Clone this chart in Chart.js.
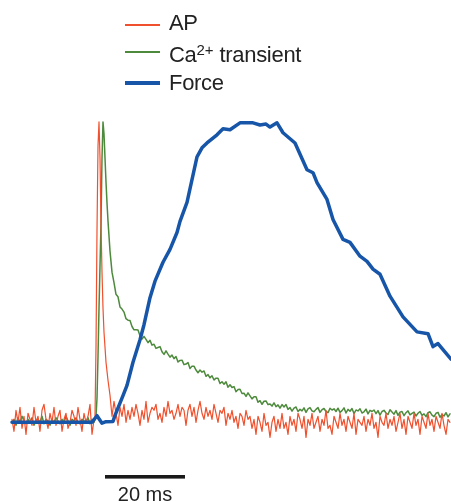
<!DOCTYPE html>
<html>
<head>
<meta charset="utf-8">
<script src="https://cdn.jsdelivr.net/npm/chart.js@4.4.0/dist/chart.umd.min.js"></script>
<style>
  body { margin: 0; background: #fff; font-family: "Liberation Sans", Arial, sans-serif; color: #222; }
  #wrap { position: relative; width: 451px; height: 501px; overflow: hidden; }
  #traces { position: absolute; left: 0; top: 0; }
  .sw { position: absolute; left: 125px; width: 35px; }
  .tx { position: absolute; left: 169px; font-size: 22px; line-height: 22px; letter-spacing: -0.3px; white-space: nowrap; }
  sup { font-size: 15px; vertical-align: 7px; line-height: 0; letter-spacing: 0; }
  #barLabel { position: absolute; top: 484px; font-size: 20px; line-height: 20px; white-space: nowrap; transform: translateX(-50%); }
</style>
</head>
<body>
<div id="wrap">
  <canvas id="traces" width="451" height="501"></canvas>
  <div class="sw" style="top:24.4px;height:1.3px;background:#f0502d"></div>
  <div class="sw" style="top:50.8px;height:2px;background:#4d8a3c"></div>
  <div class="sw" style="top:80.8px;height:3.8px;background:#1655a8"></div>
  <div class="tx" style="top:12px">AP</div>
  <div class="tx" style="top:43.5px">Ca<sup>2+</sup> transient</div>
  <div class="tx" style="top:71.5px">Force</div>
  <div id="barLabel">20 ms</div>
</div>
<script>
// time in ms, amplitude in % of peak
const step = 0.5;

// AP (red)
const apPre = [1, -3, 4, 0, 5, -2, 2, -4, 3, 1, -1, 5, 0, 2, -3, 4, 6, 1, -2, 3,
  0, 5, -1, 2, 4, -3, 1, 3, -2, 0, 4, 2, -1, 5, 1, -3, 3, 0, 2, 6, -4, 1];
const apSpikeT = [20.75, 21, 21.25, 21.5, 21.75, 22, 22.25, 22.5, 22.75, 23, 23.5, 24, 24.5];
const apSpike = [2, 25, 64, 92, 100, 88, 66, 50, 38, 30, 20, 14, 9];
const apPost = [
  2, 7, 3, -1, 5, 2, 6, 0, 4, 1,
  5, 2, 6, 3, -1, 4, 1, 7, 0, 3,
  5, 4, 6, 1, 3, 0, 5, 2, 7, 3,
  4, 1, 3, 6, 2, 5, 4, -1, 4, 6,
  2, 5, 0, 4, 7, 3, 1, 5, 2, 4,
  1, 6, 3, 0, 4, 3, 5, -1, 3, 1,
  4, 0, 2, -2, 3, 2, -1, 4, 1, 2,
  -2, 1, -4, 2, 0, -3, 3, -1, 0, -5,
  0, 2, -3, 1, -2, 3, -2, 0, -4, 2,
  -1, 1, -3, 3, 1, -2, 2, -5, 1, -1,
  3, -2, 0, 2, -3, 1, -1, 4, -2, -1,
  -4, 2, 0, -2, 3, -1, 1, -3, 2, 0,
  -2, 3, -4, 1, 0, -1, 2, -3, 1, -1,
  3, -2, 0, -5, 2, 0, -1, 3, -2, 1,
  -1, 2, -3, 0, 3, -2, 1, -4, 2, 0,
  -2, 3, -1, 1, -4, 2, 0, -2, 3, -1,
  1, -3, 2, 0, -2, 3, -1, -4, 1, 0];

// Ca2+ transient (green)
const caPre = [0, 1, -1, 1.5, 0, 2, 0.5, -0.5, 1, 0, 1.5, -1, 0.5, 1, 0, 2, -0.5, 1, 0.5, -1,
  1, 0, 1.5, 0.5, -0.5, 1, 0, 2, 0.5, -1, 1, 0.5, 1.5, 0, -0.5, 1, 0.5, 0, 1.5, -0.5, 1, 0];
const caSpikeT = [20.75, 21, 21.25, 21.5, 21.75, 22, 22.25, 22.5, 22.75, 23, 23.25, 23.5, 23.75, 24, 24.5, 25];
const caSpike = [1, 2, 8, 22, 38, 52, 66, 88, 100, 96, 88, 80, 73, 67, 57, 50];
const caPost = [
  46.5, 42.6, 41.8, 38.4, 37.7, 36.7, 34.5, 34, 33.9, 31.9,
  30.8, 30.8, 30.7, 28.8, 27.7, 28.6, 27.6, 26.5, 27.3, 25.7,
  26, 24.6, 24.9, 25.2, 23.5, 22.6, 23.8, 22.7, 21.7, 22.4,
  21.2, 21.9, 20.1, 20.6, 20.7, 19.2, 19.4, 19.9, 17.9, 18.7,
  18.7, 17.4, 16.5, 17.4, 16.7, 17.1, 15.3, 15.9, 14.8, 15.5,
  14.1, 14.7, 14.7, 12.9, 13.5, 12.7, 13.5, 11.7, 12.5, 11.6,
  11.9, 10.2, 10.9, 11, 9.6, 9.7, 8.6, 9.8, 8.8, 7.8,
  8.5, 8.5, 6.7, 7.2, 6, 7, 7.1, 5.9, 6.1, 5.4,
  6.5, 5.2, 5.8, 4.7, 5.9, 5.1, 5.9, 4.3, 4.9, 3.7,
  4.7, 5.1, 3.6, 4.3, 3.8, 4.8, 3.3, 4.5, 4.9, 3.8,
  3.5, 4.3, 4.9, 3.3, 4.2, 4.6, 3.6, 3.2, 4.7, 4.1,
  4.5, 3.6, 4.7, 3.3, 3.9, 4.8, 3.1, 4.3, 3.7, 4.6,
  2.9, 4.1, 3.8, 4.5, 3.1, 3.5, 4.4, 2.8, 4, 3.6,
  4.1, 2.9, 3.9, 2.4, 3.6, 4, 3.1, 2.6, 4.2, 3.4,
  2.7, 3.9, 2.3, 3.4, 3.6, 2.2, 3.2, 3.8, 2.5, 3,
  3.4, 2.1, 3, 3.6, 2.3, 2.8, 1.9, 3.2, 3.5, 2.4,
  1.9, 3, 3.3, 1.7, 2.6, 2.1, 3.2, 1.8, 2.8];

// Force (blue)
const forceT = [0, 20, 21.25, 22.5, 23.5, 25.25, 25.75, 27.75, 28.75, 30.25, 32, 33, 34.5, 35.75,
  37.75, 39.5, 41.25, 42, 43.75, 45, 46.25, 47.5, 48.75, 51.25, 52.75, 54.5, 57, 60.25, 62,
  63.5, 64.5, 66.25, 67.75, 70.75, 73.75, 75.25, 76.25, 78.75, 80.25, 82.75, 84.5, 87, 88.75,
  90.25, 92, 94.5, 97.75, 101.25, 104, 105.25, 106.5, 109.75];
const forceV = [0, 0, 2.2, -0.3, 0.2, 0.3, 2.3, 8.9, 12.3, 20, 27.5, 32.5, 41.5, 47,
  53.3, 57.6, 63.2, 66.9, 73.2, 80.8, 88.4, 91.4, 93, 95.7, 97.7, 97.4, 99.7, 99.7, 99,
  99.3, 98.3, 99.7, 96.4, 93, 84.1, 83.1, 79.8, 74.2, 67.5, 60.9, 59.9, 55.3, 53.6,
  51, 49.3, 42, 35.1, 30.1, 29.5, 25.2, 26.2, 21];

const scaleBarMs = 20;

function pts(times, vals) {
  return vals.map((v, i) => ({ x: times[i], y: v }));
}
function gridPts(start, vals) {
  return vals.map((v, i) => ({ x: start + i * step, y: v }));
}

const apData = gridPts(0, apPre).concat(pts(apSpikeT, apSpike), gridPts(25, apPost));
const caData = gridPts(0, caPre).concat(pts(caSpikeT, caSpike), gridPts(25.5, caPost));
const forceData = pts(forceT, forceV);

const scaleBar = {
  id: 'scaleBar',
  afterDraw(chart) {
    const x = chart.scales.x;
    const x0 = x.getPixelForValue(23.25);
    const x1 = x.getPixelForValue(23.25 + scaleBarMs);
    const ctx = chart.ctx;
    ctx.save();
    ctx.fillStyle = '#1a1a1a';
    ctx.fillRect(x0, 475, x1 - x0, 3.6);
    ctx.restore();
    document.getElementById('barLabel').style.left = ((x0 + x1) / 2) + 'px';
  }
};

new Chart(document.getElementById('traces').getContext('2d'), {
  type: 'line',
  data: {
    datasets: [
      { label: 'Force', data: forceData, borderColor: '#1655a8', borderWidth: 3.5 },
      { label: 'AP', data: apData, borderColor: '#f0502d', borderWidth: 1.2 },
      { label: 'Ca2+ transient', data: caData, borderColor: '#4d8a3c', borderWidth: 1.5 }
    ]
  },
  options: {
    responsive: false,
    animation: false,
    layout: { padding: 0 },
    elements: {
      point: { radius: 0 },
      line: { tension: 0, borderJoinStyle: 'round', borderCapStyle: 'round' }
    },
    scales: {
      x: { type: 'linear', min: -3, max: 109.75, display: false },
      y: { min: -26.2, max: 140.6, display: false }
    },
    plugins: {
      legend: { display: false },
      tooltip: { enabled: false }
    }
  },
  plugins: [scaleBar]
});
</script>
</body>
</html>
